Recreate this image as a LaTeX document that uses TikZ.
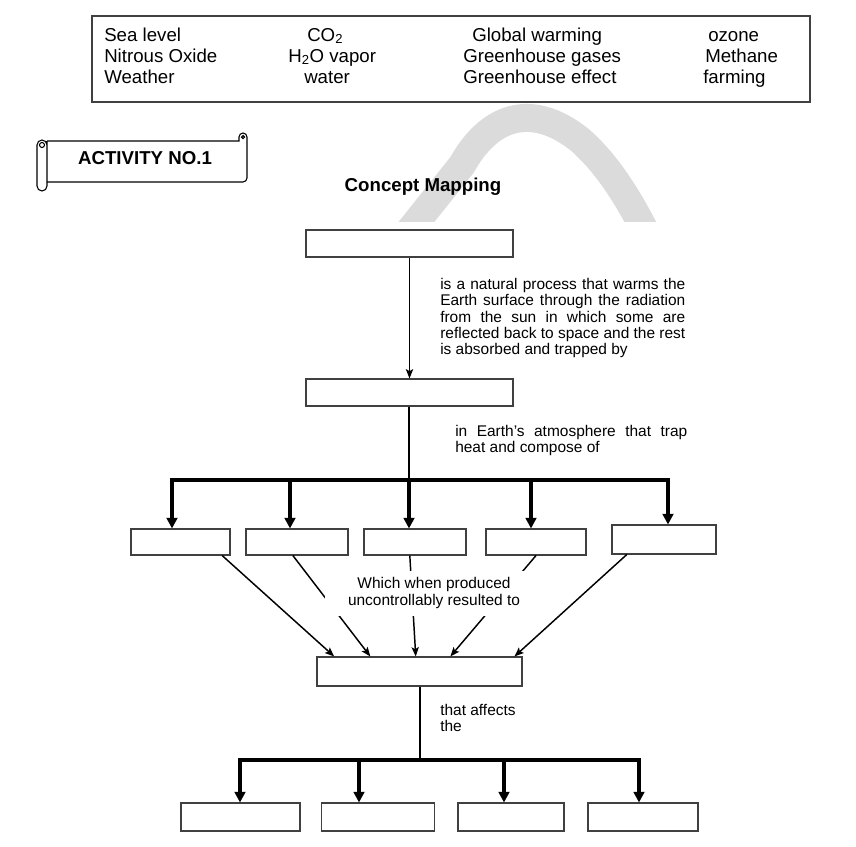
\documentclass[tikz,border=0pt]{standalone}
\usepackage{fontspec}
\setmainfont{Liberation Sans}
\usetikzlibrary{arrows.meta}

\tikzset{
  blank/.style 2 args={draw=black!75, line width=0.8pt, inner sep=0pt,
    minimum width=#1*0.75pt, minimum height=#2*0.75pt},
  word/.style={font=\fontsize{14}{16}\selectfont, inner sep=0pt, anchor=base west},
  note/.style={font=\fontsize{11.6}{12.2}\selectfont, inner sep=0pt, anchor=north west, align=justify},
  title/.style={font=\fontsize{14}{16}\selectfont\bfseries, inner sep=0pt},
  trunk/.style={line width=1.6pt},
  bar/.style={line width=2.4pt, line cap=rect},
  branch/.style={line width=2.4pt, -{Triangle[width=8pt,length=8pt]}},
  link/.style={line width=1.1pt, -{Stealth[length=7pt,width=5.5pt,inset=1.5pt]}},
  scroll/.style={line width=0.8pt},
  wmark/.style={line width=21pt, black!14},
}

\begin{document}
\begin{tikzpicture}[x=0.75pt, y=-0.75pt]
  \def\px{0.75pt}
  \useasboundingbox (0,0) rectangle (856,846);
  %
  % watermark
  \begin{scope}
    \clip (370,90) rectangle (700,221);
    \draw[wmark] (398,245) -- (462,165) .. controls (488,118) and (530,100) .. (580,140)
      .. controls (612,168) and (635,210) .. (652,245);
  \end{scope}
  %
  % word list
  \node[blank={718}{86}] (list) at (451,59) {};
  \node[word] (w1) at (104,41) {Sea level};
  \node[word] (w2) at (104,62) {Nitrous Oxide};
  \node[word] (w3) at (104,83) {Weather};
  \node[word] (w4) at (307,41) {CO\textsubscript{2}};
  \node[word] (w5) at (288,62) {H\textsubscript{2}O vapor};
  \node[word] (w6) at (304,83) {water};
  \node[word] (w7) at (472,41) {Global warming};
  \node[word] (w8) at (463,62) {Greenhouse gases};
  \node[word] (w9) at (463,83) {Greenhouse effect};
  \node[word] (w10) at (708,41) {ozone};
  \node[word] (w11) at (705,62) {Methane};
  \node[word] (w12) at (703,83) {farming};
  %
  % scroll banner
  \draw[scroll] (47,141) -- (47,186) arc[start angle=0, end angle=-180, radius=5*\px]
    -- (37,145) arc[start angle=180, end angle=0, radius=5*\px];
  \draw[scroll] (42,145) circle[radius=2.5*\px];
  \draw[scroll] (47,141) -- (239,141) -- (239,137) arc[start angle=180, end angle=0, radius=4*\px]
    -- (247,178) arc[start angle=0, end angle=-90, radius=4*\px] -- (47,182);
  \draw[scroll] (243,137) circle[radius=1.5*\px];
  \node[title] (act) at (145,158) {ACTIVITY NO.1};
  \node[title] (cm) at (423,187) {Concept Mapping};
  %
  % top part
  \node[blank={207}{27}] (top) at (409.5,243.5) {};
  \node[blank={207}{27}] (mid) at (409.5,392.5) {};
  \draw[link] (top.south) -- (mid.north);
  \node[note, text width=245*\px] (n1) at (440,278)
    {is a natural process that warms the\linebreak Earth surface through the radiation\linebreak
     from the sun in which some are\linebreak reflected back to space and the rest\linebreak
     is absorbed and trapped by};
  \node[note, text width=232*\px] (n2) at (455,425)
    {in Earth's atmosphere that trap\linebreak heat and compose of};
  %
  % gases
  \node[blank={99}{26}] (g1) at (180.5,542) {};
  \node[blank={102}{26}] (g2) at (297,542) {};
  \node[blank={102}{26}] (g3) at (415,542) {};
  \node[blank={100}{26}] (g4) at (536,542) {};
  \node[blank={104}{29}] (g5) at (664,539.5) {};
  \coordinate (hub1) at (409,480);
  \coordinate (t1) at (172,480);
  \coordinate (t2) at (290,480);
  \coordinate (t3) at (409,480);
  \coordinate (t4) at (531,480);
  \coordinate (t5) at (668,480);
  \draw[trunk] (mid.south -| hub1) -- (hub1);
  \draw[bar] (t1) -- (t5);
  \draw[branch] (t1) -- (t1 |- g1.north);
  \draw[branch] (t2) -- (t2 |- g2.north);
  \draw[branch] (t3) -- (t3 |- g3.north);
  \draw[branch] (t4) -- (t4 |- g4.north);
  \draw[branch] (t5) -- (t5 |- g5.north);
  %
  % result box
  \node[blank={205}{29}] (res) at (419.5,671.5) {};
  \draw[link] (g1.-18) -- (res.170);
  \draw[link] (g2.-107) -- (res.163);
  \draw[link] (g3.-111) -- (res.104);
  \draw[link] (g4.-90) -- (res.26);
  \draw[link] (g5.-158) -- (res.9);
  \node[fill=white, minimum width=218*\px, minimum height=45*\px, align=center,
    font=\fontsize{11.6}{13.2}\selectfont, inner sep=0pt] (n3) at (434,593)
    {Which when produced\\uncontrollably resulted to};
  %
  % bottom part
  \node[note, align=left] (n4) at (440,704) {that affects\\the};
  \coordinate (hub2) at (420,760);
  \coordinate (s1) at (240,760);
  \coordinate (s2) at (359,760);
  \coordinate (s3) at (504,760);
  \coordinate (s4) at (639,760);
  \node[blank={119}{28}] (e1) at (240.5,817) {};
  \node[blank={113}{28}] (e2) at (378,817) {};
  \node[blank={106}{28}] (e3) at (511,817) {};
  \node[blank={110}{28}] (e4) at (643,817) {};
  \draw[trunk] (res.south -| hub2) -- (hub2);
  \draw[bar] (s1) -- (s4);
  \draw[branch] (s1) -- (s1 |- e1.north);
  \draw[branch] (s2) -- (s2 |- e2.north);
  \draw[branch] (s3) -- (s3 |- e3.north);
  \draw[branch] (s4) -- (s4 |- e4.north);
  %
\end{tikzpicture}
\end{document}
